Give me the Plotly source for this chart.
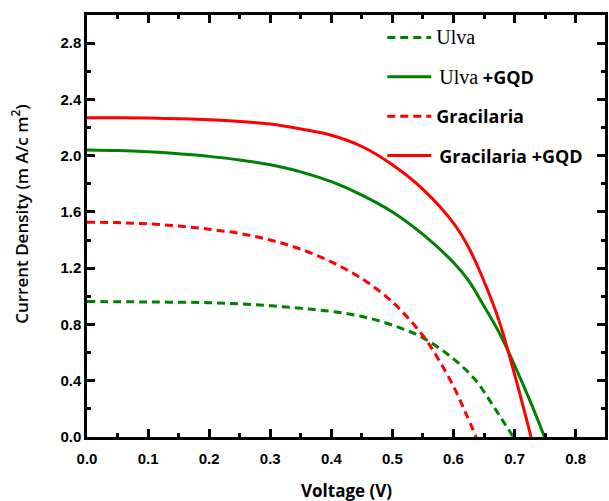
import plotly.graph_objects as go

# Voltage (V) / current density (mA/cm^2)
ulva_v = [0.0, 0.1, 0.2, 0.25, 0.3, 0.35, 0.4, 0.45, 0.5, 0.55, 0.6, 0.635, 0.66, 0.68, 0.698]
ulva_j = [0.963, 0.96, 0.955, 0.946, 0.933, 0.915, 0.893, 0.857, 0.795, 0.705, 0.555, 0.41, 0.255, 0.12, 0.0]

ulva_gqd_v = [0.0, 0.05, 0.1, 0.15, 0.2, 0.25, 0.3, 0.35, 0.4, 0.45, 0.5, 0.55, 0.6, 0.625, 0.65, 0.675, 0.70, 0.725, 0.749]
ulva_gqd_j = [2.04, 2.036, 2.027, 2.013, 1.995, 1.97, 1.935, 1.885, 1.815, 1.72, 1.60, 1.44, 1.24, 1.11, 0.93, 0.74, 0.51, 0.26, 0.0]

grac_v = [0.0, 0.05, 0.1, 0.15, 0.2, 0.25, 0.3, 0.35, 0.4, 0.45, 0.5, 0.55, 0.575, 0.6, 0.62, 0.637]
grac_j = [1.527, 1.524, 1.515, 1.50, 1.477, 1.447, 1.40, 1.335, 1.245, 1.125, 0.96, 0.72, 0.555, 0.36, 0.17, 0.0]

grac_gqd_v = [0.0, 0.05, 0.1, 0.15, 0.2, 0.25, 0.3, 0.35, 0.4, 0.45, 0.5, 0.55, 0.6, 0.625, 0.65, 0.675, 0.70, 0.727]
grac_gqd_j = [2.27, 2.27, 2.267, 2.262, 2.255, 2.243, 2.225, 2.19, 2.145, 2.065, 1.935, 1.76, 1.52, 1.345, 1.107, 0.82, 0.445, 0.0]

x_ticks = [0.0, 0.1, 0.2, 0.3, 0.4, 0.5, 0.6, 0.7, 0.8]
y_ticks = [0.0, 0.4, 0.8, 1.2, 1.6, 2.0, 2.4, 2.8]

GREEN = "#008000"
RED = "#ff0000"
DASH = "8px,5px"

serif = "font-family:'Liberation Serif';font-weight:normal;font-size:20px"
names = [
    f"<span style=\"{serif}\">Ulva</span>",
    f"\u2009<span style=\"{serif}\">Ulva</span> <b>+GQD</b>",
    "<b>Gracilaria</b>",
    "\u2009<b>Gracilaria +GQD</b>",
]

fig = go.Figure()
series = [
    (ulva_v, ulva_j, GREEN, DASH),
    (ulva_gqd_v, ulva_gqd_j, GREEN, "solid"),
    (grac_v, grac_j, RED, DASH),
    (grac_gqd_v, grac_gqd_j, RED, "solid"),
]
for i, (v, j, c, d) in enumerate(series):
    fig.add_trace(go.Scatter(
        x=v, y=j, mode="lines", name=names[i], legendgroup=f"g{i}",
        line=dict(color=c, width=3, dash=d, shape="spline", smoothing=1.0),
    ))

axis_common = dict(
    showline=True, linecolor="black", linewidth=2.5, mirror="allticks",
    ticks="inside", ticklen=8, tickwidth=2.5, tickcolor="black",
    showgrid=False, zeroline=False,
    tickfont=dict(family="Liberation Sans", size=15, color="black", weight="bold"),
)

fig.update_layout(
    width=609, height=501,
    margin=dict(l=87, r=1, t=15, b=64),
    paper_bgcolor="white", plot_bgcolor="white",
    showlegend=True,
    legend=dict(
        x=0.570, y=0.99, xanchor="left", yanchor="top",
        bgcolor="rgba(0,0,0,0)", itemwidth=44, tracegroupgap=13,
        font=dict(family="Open Sans", size=18, color="black"),
    ),
    xaxis=dict(
        range=[0, 0.848], tickvals=x_ticks, ticktext=[f"{t:.1f}" for t in x_ticks],
        minor=dict(ticks="inside", ticklen=4, tickwidth=2.5, tickcolor="black", dtick=0.05, tick0=0),
        ticklabelstandoff=6,
        **axis_common,
    ),
    yaxis=dict(
        range=[0, 3.0], tickvals=y_ticks, ticktext=[f"{t:.1f}" for t in y_ticks],
        minor=dict(ticks="inside", ticklen=4, tickwidth=2.5, tickcolor="black", dtick=0.2, tick0=0),
        **axis_common,
    ),
    annotations=[
        dict(text="Voltage (V)", xref="paper", yref="paper", x=0.5, y=-0.1256,
             xanchor="center", yanchor="middle", showarrow=False,
             font=dict(family="Open Sans", size=17, color="black", weight="bold")),
        dict(text="Current Density (m A/c m<sup>2</sup>)", xref="paper", yref="paper",
             x=-0.13, y=0.528, xanchor="center", yanchor="middle", textangle=-90,
             showarrow=False,
             font=dict(family="Open Sans", size=17, color="black", weight=600)),
    ],
)

fig.write_html("out.html")
